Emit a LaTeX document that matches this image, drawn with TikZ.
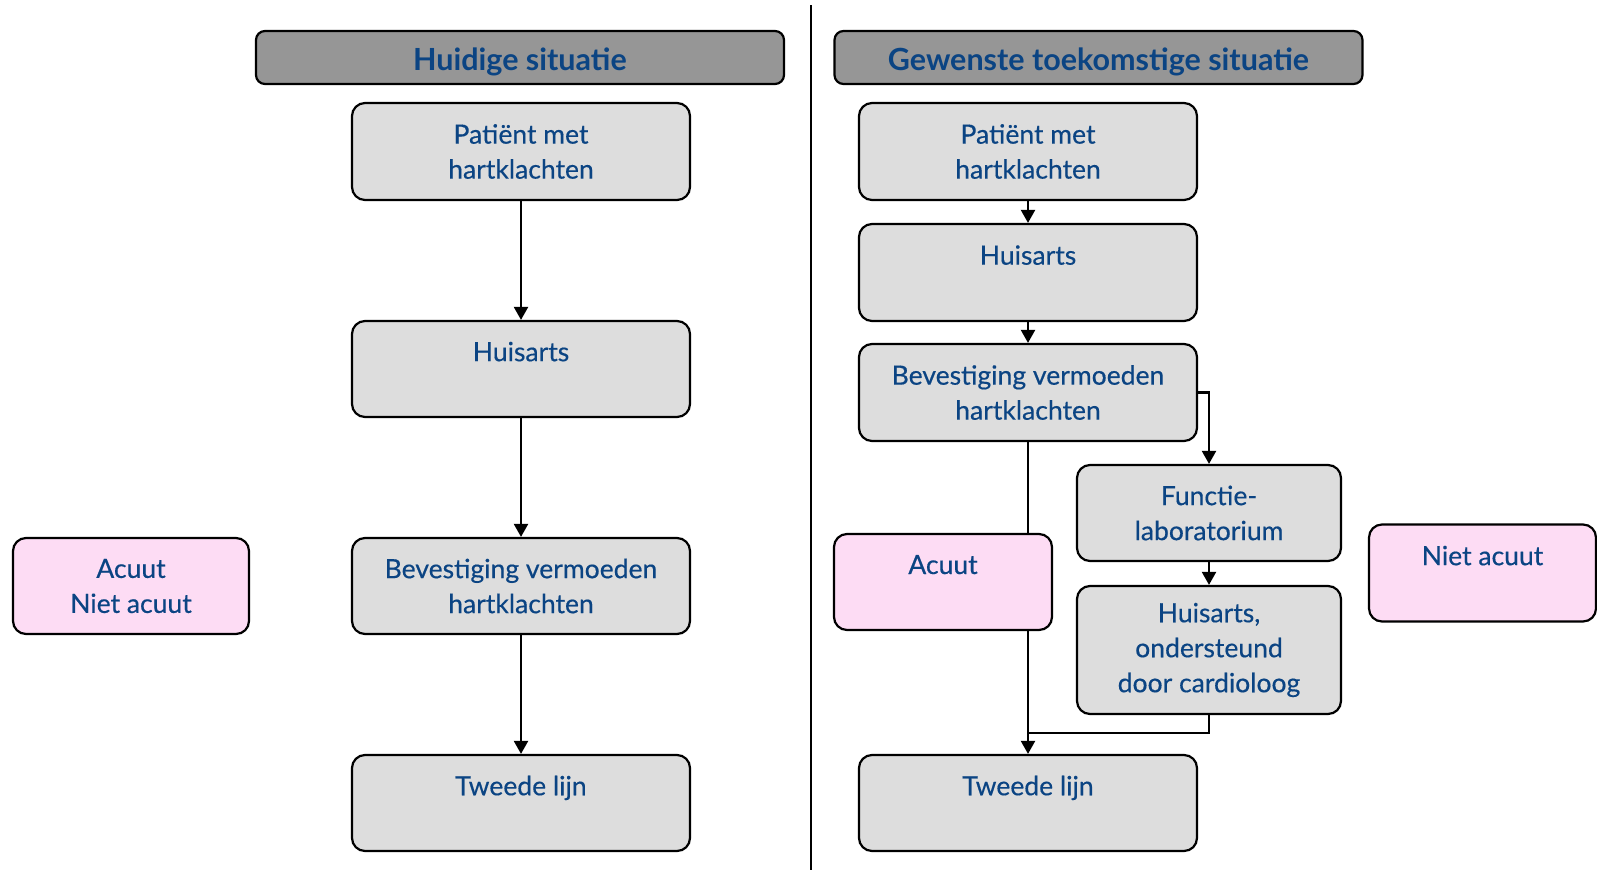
\documentclass[tikz,border=0pt]{standalone}
\usepackage{fontspec}
\setmainfont{Lato}[FakeBold=0.4]
\newfontfamily\headfont{Lato}
\usetikzlibrary{arrows.meta}
\definecolor{txtblue}{HTML}{0B4483}
\definecolor{boxgrey}{HTML}{DDDDDD}
\definecolor{headgrey}{HTML}{969696}
\definecolor{boxpink}{HTML}{FDDCF4}
\tikzset{
  x=1pt, y=1pt,
  base/.style={draw=black, line width=2.2pt, rounded corners=13pt, align=center,
    text=txtblue, font=\fontsize{26.5}{35}\selectfont, inner sep=0pt},
  gbox/.style={base, fill=boxgrey, minimum width=#1},
  gbox/.default=338pt,
  pbox/.style={base, fill=boxpink},
  hbox/.style={base, fill=headgrey, rounded corners=9pt, minimum width=528pt, minimum height=53pt,
    font=\fontsize{30.5}{34}\headfont\bfseries, text height=26pt, text depth=0pt},
  conn/.style={draw=black, line width=2.2pt, -{Triangle[width=14pt,length=13pt]}},
  plain/.style={draw=black, line width=2.2pt},
}
\begin{document}
\begin{tikzpicture}
\useasboundingbox (0,0) rectangle (1597,-870);
% divider
\coordinate (dtop) at (811,-5);
\coordinate (dbot) at (811,-870);
\draw[line width=2.2pt] (dtop) -- (dbot);
% headers
\node[hbox] (hl) at (520,-57.5) {Huidige situatie};
\node[hbox] (hr) at (1098.5,-57.5) {Gewenste toekomstige situatie};
% left column
\node[gbox, minimum height=97pt] (lp) at (521,-151.5) {Patiënt met\\hartklachten};
\node[gbox, minimum height=96pt] (lh) at (521,-369) {Huisarts\\\mbox{}};
\node[gbox, minimum height=96pt] (lb) at (521,-586) {Bevestiging vermoeden\\hartklachten};
\node[gbox, minimum height=96pt] (lt) at (521,-803) {Tweede lijn\\\mbox{}};
\node[pbox, minimum width=236pt, minimum height=96pt] (lpink) at (131,-586) {Acuut\\Niet acuut};
\draw[conn] (lp) -- (lh);
\draw[conn] (lh) -- (lb);
\draw[conn] (lb) -- (lt);
% right column
\node[gbox, minimum height=97pt] (rp) at (1028,-151.5) {Patiënt met\\hartklachten};
\node[gbox, minimum height=97pt] (rh) at (1028,-272.5) {Huisarts\\\mbox{}};
\node[gbox, minimum height=97pt] (rb) at (1028,-392.5) {Bevestiging vermoeden\\hartklachten};
\node[gbox, minimum height=96pt] (rt) at (1028,-803) {Tweede lijn\\\mbox{}};
\node[gbox=264pt, minimum height=96pt] (rf) at (1209,-513) {Functie-\\laboratorium};
\node[gbox=264pt, minimum height=128pt] (ro) at (1209,-650) {Huisarts,\\ondersteund\\door cardioloog};
\node[pbox, minimum width=227pt, minimum height=97pt] (rn) at (1482.5,-573) {Niet acuut\\\mbox{}};
\coordinate (join) at (1028,-733);
\draw[conn] (rp) -- (rh);
\draw[conn] (rh) -- (rb);
\draw[conn] (rb.east) -| (rf.north);
\draw[conn] (rf) -- (ro);
\draw[conn] (rb) -- (rt);
\draw[plain] (ro.south) |- (join);
\node[pbox, minimum width=218pt, minimum height=96pt] (ra) at (943,-582) {Acuut\\\mbox{}};
\end{tikzpicture}
\end{document}
